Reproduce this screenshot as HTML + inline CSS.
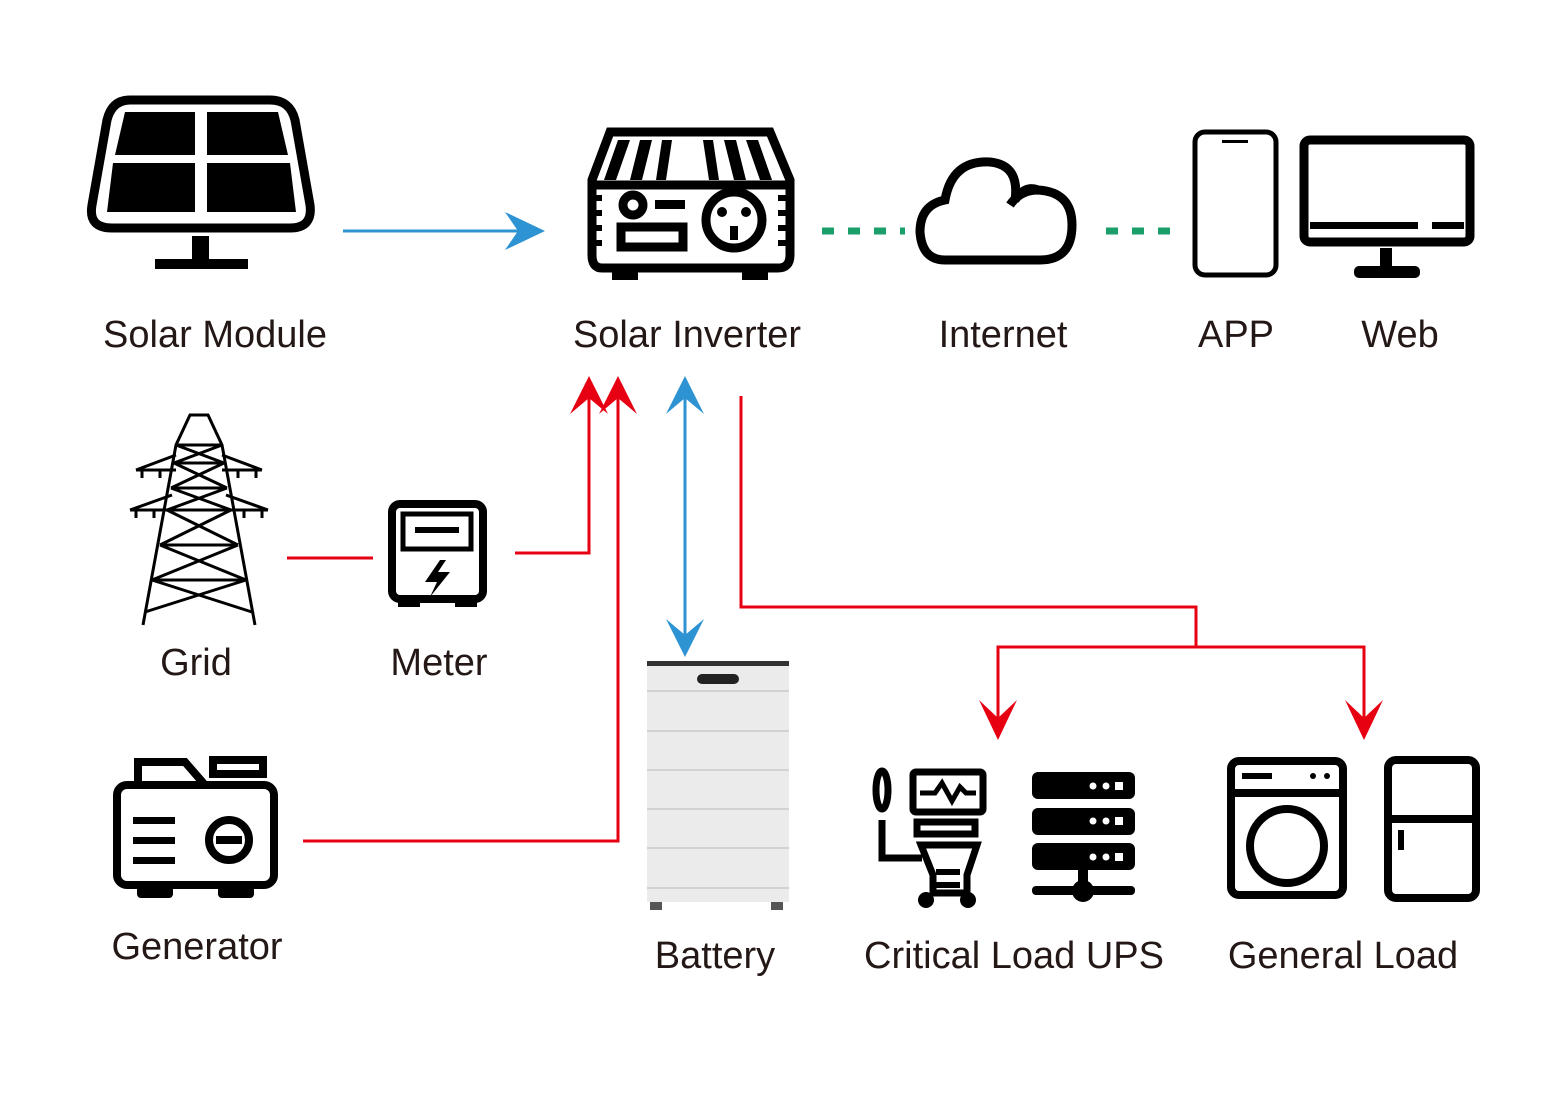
<!DOCTYPE html>
<html><head><meta charset="utf-8"><style>
html,body{margin:0;padding:0;background:#fff}
svg{display:block}
text{font-family:"Liberation Sans",sans-serif;font-size:38px;fill:#231815}
</style></head><body>
<svg width="1564" height="1095" viewBox="0 0 1564 1095" xmlns="http://www.w3.org/2000/svg">
<defs>
<marker id="ar" viewBox="0 0 20 20" refX="18" refY="10" markerWidth="20" markerHeight="20" markerUnits="userSpaceOnUse" orient="auto-start-reverse">
<path d="M0,0 L20,10 L0,20 L5,10Z" fill="#e60012"/></marker>
</defs>
<!-- connectors -->
<g fill="none" stroke-width="3">
<line x1="343" y1="231" x2="530" y2="231" stroke="#2e93d2"/>
<line x1="685" y1="395" x2="685" y2="640" stroke="#2e93d2"/>
<line x1="287" y1="558" x2="373" y2="558" stroke="#e60012"/>
<polyline points="515,553 589,553 589,395" stroke="#e60012"/>
<polyline points="303,841 618,841 618,395" stroke="#e60012"/>
<polyline points="741,396 741,607 1196,607 1196,647" stroke="#e60012"/>
<polyline points="998,725 998,647 1364,647 1364,725" stroke="#e60012"/>
</g>
<g fill="#2e93d2">
<path d="M545,231 L505,212 L518,231 L505,250Z"/>
<path d="M685,376 L666,414 L685,398 L704,414Z"/>
<path d="M685,657 L666,619 L685,635 L704,619Z"/>
</g>
<g fill="#e60012">
<path d="M589,376 L570,414 L589,398 L608,414Z"/>
<path d="M618,376 L599,414 L618,398 L637,414Z"/>
<path d="M998,740 L979,700 L998,718 L1017,700Z"/>
<path d="M1364,740 L1345,700 L1364,718 L1383,700Z"/>
</g>
<g stroke="#1a9e6a" stroke-width="7" stroke-dasharray="12,14">
<line x1="822" y1="231" x2="905" y2="231"/>
<line x1="1106" y1="231" x2="1172" y2="231"/>
</g>
<!-- solar module -->
<g>
<path d="M130,100 H270 Q290,100 295,120 L310,205 Q313,228 290,228 H112 Q88,228 92,205 L107,120 Q112,100 130,100Z" fill="none" stroke="#000" stroke-width="9"/>
<path d="M125,112 H195 V155 H115Z M207,112 H278 L288,155 H207Z M113,163 H195 V212 H107Z M207,163 H290 L296,212 H207Z" fill="#000"/>
<rect x="192" y="236" width="17" height="28" fill="#000"/>
<rect x="155" y="259" width="93" height="10" fill="#000"/>
</g>
<!-- inverter -->
<g fill="none" stroke="#000" stroke-width="9">
<path d="M610,132 H770 L790,180 V255 Q790,268 778,268 H602 Q592,268 592,255 V180Z"/>
<line x1="592" y1="185" x2="790" y2="185"/>
<circle cx="734" cy="220" r="28"/>
<circle cx="633" cy="205" r="10"/>
<rect x="621" y="227" width="62" height="20"/>
</g>
<g fill="#000">
<path d="M618,140 h12 l-14,40 h-12Z M640,140 h12 l-10,40 h-12Z M662,140 h10 l-6,40 h-10Z M703,140 h10 l6,40 h-10Z M724,140 h12 l10,40 h-12Z M746,140 h12 l14,40 h-12Z"/>
<rect x="655" y="200" width="30" height="9"/>
<rect x="612" y="272" width="26" height="8"/><rect x="742" y="272" width="26" height="8"/>
<rect x="590" y="195" width="12" height="6"/><rect x="590" y="210" width="12" height="6"/><rect x="590" y="225" width="12" height="6"/><rect x="590" y="240" width="12" height="6"/>
<rect x="778" y="195" width="12" height="6"/><rect x="778" y="210" width="12" height="6"/><rect x="778" y="225" width="12" height="6"/><rect x="778" y="240" width="12" height="6"/>
<circle cx="722" cy="212" r="5"/><circle cx="746" cy="212" r="5"/><rect x="730" y="226" width="8" height="14"/>
</g>
<!-- cloud -->
<path d="M945,260 H1040 Q1072,260 1072,225 Q1072,192 1038,190 Q1025,185 1015,200 Q1020,165 990,162 Q952,160 945,200 Q920,205 920,232 Q922,260 945,260Z M1010,205 Q1020,190 1038,190" fill="none" stroke="#000" stroke-width="9"/>
<!-- phone -->
<rect x="1195" y="132" width="81" height="143" rx="10" fill="none" stroke="#000" stroke-width="5"/>
<rect x="1222" y="140" width="26" height="3" fill="#000"/>
<!-- monitor -->
<rect x="1304" y="140" width="166" height="102" rx="6" fill="none" stroke="#000" stroke-width="9"/>
<rect x="1310" y="222" width="108" height="7" fill="#000"/><rect x="1432" y="222" width="32" height="7" fill="#000"/>
<rect x="1380" y="248" width="12" height="20" fill="#000"/><rect x="1354" y="266" width="66" height="12" rx="5" fill="#000"/>
<!-- tower -->
<g fill="none" stroke="#000" stroke-width="3">
<path d="M143,625 L176,445 L190,415 H208 L222,445 L255,625"/>
<path d="M176,445 H222 M174,463 H224 M171,488 H227 M167,510 H231 M160,545 H238 M152,580 H246"/>
<path d="M176,445 L224,463 M222,445 L174,463 M174,463 L227,488 M224,463 L171,488 M171,488 L231,510 M227,488 L167,510 M167,510 L238,545 M231,510 L160,545 M160,545 L246,580 M238,545 L152,580 M152,580 L252,612 M246,580 L145,612"/>
<path d="M136,470 L176,455 M262,470 L222,455 M136,470 H176 M222,470 H262 M130,510 L172,495 M268,510 L226,495 M130,510 H172 M226,510 H268"/>
<path d="M142,470 v8 M160,470 v8 M238,470 v8 M256,470 v8 M136,510 v8 M154,510 v8 M244,510 v8 M262,510 v8"/>
</g>
<!-- meter -->
<rect x="392" y="504" width="91" height="95" rx="8" fill="none" stroke="#000" stroke-width="8"/>
<rect x="403" y="514" width="68" height="35" fill="none" stroke="#000" stroke-width="5"/>
<rect x="415" y="527" width="44" height="6" fill="#000"/>
<rect x="398" y="598" width="22" height="9" fill="#000"/><rect x="455" y="598" width="22" height="9" fill="#000"/>
<path d="M440,560 L425,582 H437 L430,597 L450,572 H438 L446,560Z" fill="#000"/>
<!-- generator -->
<g fill="none" stroke="#000" stroke-width="8">
<rect x="117" y="785" width="157" height="100" rx="10"/>
<path d="M138,785 V762 H185 L205,785"/>
<rect x="213" y="760" width="50" height="14"/>
<circle cx="229" cy="840" r="20"/>
</g>
<g fill="#000"><rect x="216" y="836" width="26" height="8"/><rect x="133" y="817" width="42" height="7"/><rect x="133" y="837" width="42" height="7"/><rect x="133" y="857" width="42" height="7"/>
<rect x="137" y="886" width="36" height="12" rx="4"/><rect x="218" y="886" width="36" height="12" rx="4"/></g>
<!-- battery -->
<g>
<rect x="647" y="662" width="142" height="240" fill="#ebebeb"/>
<rect x="647" y="661" width="142" height="5" fill="#333"/>
<g stroke="#d2d2d2" stroke-width="2"><line x1="647" y1="691" x2="789" y2="691"/><line x1="647" y1="731" x2="789" y2="731"/><line x1="647" y1="770" x2="789" y2="770"/><line x1="647" y1="809" x2="789" y2="809"/><line x1="647" y1="848" x2="789" y2="848"/><line x1="647" y1="888" x2="789" y2="888"/></g>
<rect x="697" y="674" width="42" height="10" rx="5" fill="#222"/>
<rect x="650" y="902" width="12" height="8" fill="#555"/><rect x="771" y="902" width="12" height="8" fill="#555"/>
</g>
<!-- medical -->
<g fill="none" stroke="#000" stroke-width="7">
<ellipse cx="882" cy="790" rx="6" ry="19"/>
<path d="M882,820 V858 H922"/>
<rect x="913" y="772" width="70" height="40" rx="3"/>
<rect x="917" y="822" width="58" height="12"/>
<path d="M921,845 H977 L967,875 V893 H933 V875Z"/>
<path d="M920,793 H935 L942,783 L952,801 L960,787 L966,793 H976" stroke-width="5"/>
</g>
<g fill="#000"><rect x="936" y="869" width="24" height="6"/><rect x="936" y="882" width="24" height="6"/>
<circle cx="926" cy="900" r="8"/><circle cx="968" cy="900" r="8"/></g>
<!-- server -->
<g fill="#000">
<rect x="1032" y="772" width="103" height="27" rx="6"/><rect x="1032" y="808" width="103" height="27" rx="6"/><rect x="1032" y="843" width="103" height="27" rx="6"/>
<rect x="1078" y="870" width="10" height="14"/><rect x="1032" y="886" width="103" height="9" rx="4"/><circle cx="1083" cy="891" r="11"/>
</g>
<g fill="#fff"><circle cx="1093" cy="786" r="3.5"/><circle cx="1106" cy="786" r="3.5"/><rect x="1115" y="782" width="8" height="8"/>
<circle cx="1093" cy="821" r="3.5"/><circle cx="1106" cy="821" r="3.5"/><rect x="1115" y="817" width="8" height="8"/>
<circle cx="1093" cy="857" r="3.5"/><circle cx="1106" cy="857" r="3.5"/><rect x="1115" y="853" width="8" height="8"/></g>
<!-- washer -->
<g fill="none" stroke="#000" stroke-width="8">
<rect x="1231" y="761" width="112" height="134" rx="8"/>
<line x1="1231" y1="793" x2="1343" y2="793"/>
<circle cx="1287" cy="846" r="37"/>
</g>
<g fill="#000"><rect x="1242" y="773" width="30" height="6"/><circle cx="1313" cy="776" r="3"/><circle cx="1327" cy="776" r="3"/></g>
<!-- fridge -->
<g fill="none" stroke="#000" stroke-width="8">
<rect x="1388" y="760" width="88" height="138" rx="8"/>
<line x1="1388" y1="819" x2="1476" y2="819"/>
</g>
<rect x="1398" y="830" width="6" height="20" fill="#000"/>
<!-- labels -->
<text x="215" y="347" text-anchor="middle">Solar Module</text>
<text x="687" y="347" text-anchor="middle">Solar Inverter</text>
<text x="1003" y="347" text-anchor="middle">Internet</text>
<text x="1236" y="347" text-anchor="middle">APP</text>
<text x="1400" y="347" text-anchor="middle">Web</text>
<text x="196" y="675" text-anchor="middle">Grid</text>
<text x="439" y="675" text-anchor="middle">Meter</text>
<text x="197" y="959" text-anchor="middle">Generator</text>
<text x="715" y="968" text-anchor="middle">Battery</text>
<text x="1014" y="968" text-anchor="middle">Critical Load UPS</text>
<text x="1343" y="968" text-anchor="middle">General Load</text>
</svg>
</body></html>
